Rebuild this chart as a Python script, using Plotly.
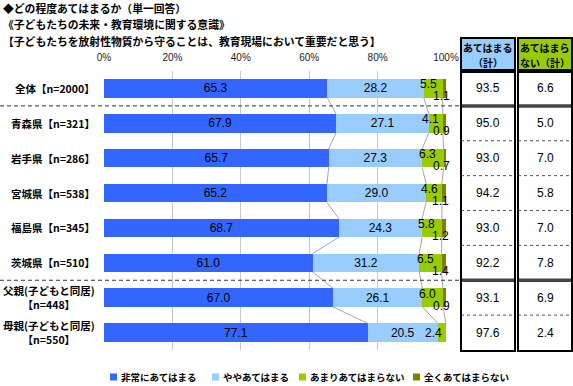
import plotly.graph_objects as go

# ---------------- data ----------------
categories = ["全体【n=2000】", "青森県【n=321】", "岩手県【n=286】", "宮城県【n=538】",
              "福島県【n=345】", "茨城県【n=510】", "父親(子どもと同居)<br>【n=448】",
              "母親(子どもと同居)<br>【n=550】"]
series_names = ["非常にあてはまる", "ややあてはまる", "あまりあてはまらない", "全くあてはまらない"]
very = [65.3, 67.9, 65.7, 65.2, 68.7, 61.0, 67.0, 77.1]
somewhat = [28.2, 27.1, 27.3, 29.0, 24.3, 31.2, 26.1, 20.5]
not_much = [5.5, 4.1, 6.3, 4.6, 5.8, 6.5, 6.0, 2.4]
not_at_all = [1.1, 0.9, 0.7, 1.1, 1.2, 1.4, 0.9, 0.0]
agree_total = [93.5, 95.0, 93.0, 94.2, 93.0, 92.2, 93.1, 97.6]
disagree_total = [6.6, 5.0, 7.0, 5.8, 7.0, 7.8, 6.9, 2.4]
table_headers = [["あてはまる", "（計）"], ["あてはまら", "ない（計）"]]
x_ticks = [0, 20, 40, 60, 80, 100]
title_lines = ["◆どの程度あてはまるか（単一回答）",
               "《子どもたちの未来・教育環境に関する意識》",
               "【子どもたちを放射性物質から守ることは、教育現場において重要だと思う】"]
colors = ["#3366FF", "#99CCFF", "#99CC00", "#808000"]
header_colors = ["#99CCFF", "#99CC00"]

# ---------------- layout geometry (pixels) ----------------
W, H = 573, 386
L, R, T, B = 104, 446, 71, 350


def px_x(p):
    return (p - L) / (R - L)


def px_y(p):
    return (B - p) / (B - T)


JP = "Noto Sans CJK JP"
NUM = "Liberation Sans, Arial, Noto Sans CJK JP"
BAR_W = 0.53

series = [very, somewhat, not_much, not_at_all]
n = len(categories)
ypos = list(range(n))

fig = go.Figure()

# series lines (connect segment boundaries between consecutive bars)
lx, ly = [], []
cums = []
for i in range(n):
    c, acc = [], 0
    for s in series[:-1]:
        acc += s[i]
        c.append(acc)
    cums.append(c)
for i in range(n - 1):
    for k in range(3):
        lx += [cums[i][k], cums[i + 1][k], None]
        ly += [i + BAR_W / 2, i + 1 - BAR_W / 2, None]
fig.add_trace(go.Scatter(x=lx, y=ly, mode="lines", line=dict(color="#a6a6a6", width=1),
                         hoverinfo="skip", showlegend=False))

for k, (name, vals) in enumerate(zip(series_names, series)):
    big = k < 2
    fig.add_trace(go.Bar(
        y=ypos, x=vals, name=name, orientation="h", width=BAR_W,
        marker=dict(color=colors[k], line=dict(width=0)),
        text=[f"{v:.1f}" for v in vals] if big else None,
        textposition="inside" if big else "none",
        insidetextanchor="middle", textangle=0,
        textfont=dict(family=NUM, size=12, color="#000000"),
        constraintext="none", showlegend=False,
    ))

annotations = []
shapes = []


def ann(**kw):
    d = dict(showarrow=False, xanchor="center", yanchor="middle")
    d.update(kw)
    annotations.append(d)


# small-segment labels
for i in range(n):
    base = very[i] + somewhat[i]
    v = not_much[i]
    last = not_at_all[i] == 0
    ann(x=base + v / 2, y=i, xref="x", yref="y", text=f"{v:.1f}",
        xshift=-8 if last else -5, yshift=0 if last else 4,
        font=dict(family=NUM, size=12, color="#000"))
    v2 = not_at_all[i]
    if v2 > 0:
        ann(x=base + v + v2 / 2, y=i, xref="x", yref="y", text=f"{v2:.1f}",
            xshift=-3, yshift=-8, font=dict(family=NUM, size=12, color="#000"))

# category labels
for i, c in enumerate(categories):
    ann(x=px_x(97), y=i, xref="paper", yref="y", text=f"<b>{c}</b>",
        xanchor="right", align="center", font=dict(family=JP, size=10.5, color="#000"))

# title lines
for t, yy in zip(title_lines, [8, 24, 41]):
    ann(x=px_x(1), y=px_y(yy), xref="paper", yref="paper", text=f"<b>{t}</b>",
        xanchor="left", font=dict(family=JP, size=10.8, color="#000"))

# separator dashed lines
for yb in [0.5, 5.5]:
    shapes.append(dict(type="line", xref="paper", yref="y", x0=px_x(0), x1=px_x(460), y0=yb, y1=yb,
                       line=dict(color="#333333", width=1, dash="4px,3px")))

# table
cols = [(461, 515), (518, 572)]
tables = [agree_total, disagree_total]
for (c0, c1), hdr, hcol, vals in zip(cols, table_headers, header_colors, tables):
    shapes.append(dict(type="rect", xref="paper", yref="paper", x0=px_x(c0), x1=px_x(c1),
                       y0=px_y(70), y1=px_y(38), fillcolor=hcol, line=dict(color="#000", width=2)))
    for line_txt, yy in zip(hdr, [47, 62]):
        ann(x=px_x((c0 + c1) / 2), y=px_y(yy), xref="paper", yref="paper",
            text=f"<b>{line_txt}</b>", font=dict(family=JP, size=10, color="#000"))
    for yb in [1.5, 2.5, 3.5, 4.5, 6.5]:
        shapes.append(dict(type="line", xref="paper", yref="y", x0=px_x(c0), x1=px_x(c1), y0=yb, y1=yb,
                           line=dict(color="#555", width=1, dash="dot")))
    for yb in [0.5, 5.5]:
        shapes.append(dict(type="line", xref="paper", yref="y", x0=px_x(c0), x1=px_x(c1), y0=yb, y1=yb,
                           line=dict(color="#444", width=3.5)))
    shapes.append(dict(type="rect", xref="paper", yref="paper", x0=px_x(c0), x1=px_x(c1),
                       y0=px_y(351), y1=px_y(72), fillcolor="rgba(0,0,0,0)", line=dict(color="#000", width=2)))
    for i, v in enumerate(vals):
        ann(x=px_x((c0 + c1) / 2), y=i, xref="paper", yref="y", text=f"{v:.1f}",
            font=dict(family=NUM, size=12, color="#000"))

# manual legend
leg_sq = [110, 212, 299, 413]
for name, col, sx in zip(series_names, colors, leg_sq):
    shapes.append(dict(type="rect", xref="paper", yref="paper", x0=px_x(sx), x1=px_x(sx + 7),
                       y0=px_y(380.5), y1=px_y(373.5), fillcolor=col, line=dict(width=0)))
    ann(x=px_x(sx + 9), y=px_y(377), xref="paper", yref="paper",
        text=f"<b>{name}</b>", xanchor="left", font=dict(family=JP, size=9.5, color="#000"))

fig.update_layout(
    width=W, height=H, autosize=False,
    margin=dict(l=L, r=W - R, t=T, b=H - B, pad=0),
    barmode="stack", bargap=0.47,
    plot_bgcolor="#ffffff", paper_bgcolor="#ffffff",
    showlegend=False,
    xaxis=dict(range=[0, 100], side="top", tickvals=x_ticks, ticktext=[f"{v}%" for v in x_ticks],
               showgrid=True, gridcolor="#c8c8c8", gridwidth=1, zeroline=False, showline=False,
               ticks="", ticklabelstandoff=7,
               tickfont=dict(family=NUM, size=10, color="#222"), fixedrange=True),
    yaxis=dict(range=[n - 0.5, -0.5], showticklabels=False, showgrid=False, zeroline=False,
               showline=False, ticks="", fixedrange=True),
    annotations=annotations, shapes=shapes,
)

fig.write_html("out.html", config={"displayModeBar": False},
               post_script="document.body.style.margin='0px';document.body.style.padding='0px';")
